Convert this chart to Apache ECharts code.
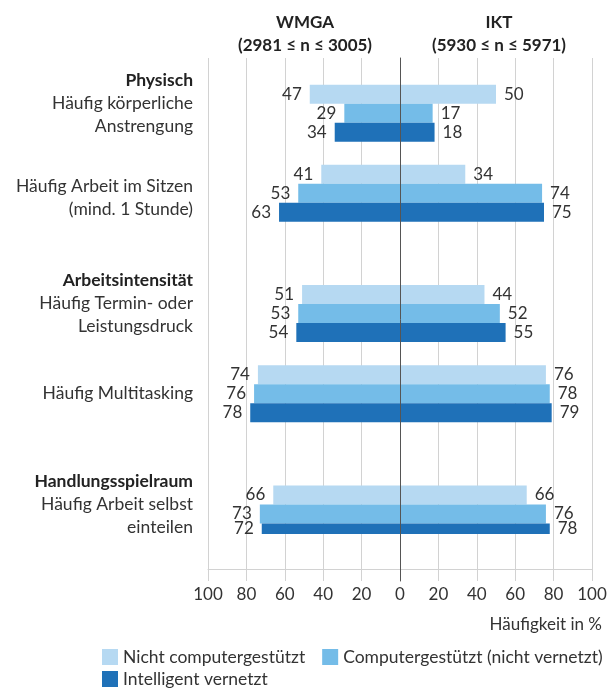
<!DOCTYPE html>
<html lang="de">
<head>
<meta charset="utf-8">
<title>Belastungen und Handlungsspielraum</title>
<script src="https://cdn.jsdelivr.net/npm/echarts@6/dist/echarts.min.js"></script>
<style>
  html, body { margin: 0; padding: 0; background: #ffffff; }
  #chart { width: 614px; height: 688px; }
</style>
</head>
<body>
<div id="chart"></div>
<script>
// ---- data ----
const headers = ['Physisch', '', 'Arbeitsintensität', '', 'Handlungsspielraum'];
const items = [
  'Häufig körperliche\nAnstrengung',
  'Häufig Arbeit im Sitzen\n(mind. 1 Stunde)',
  'Häufig Termin- oder\nLeistungsdruck',
  'Häufig Multitasking',
  'Häufig Arbeit selbst\neinteilen'
];
const groups = ['Nicht computergestützt', 'Computergestützt (nicht vernetzt)', 'Intelligent vernetzt'];

// WMGA (left side)
const wmgaNicht = [47, 41, 51, 74, 66];
const wmgaComp = [29, 53, 53, 76, 73];
const wmgaIntel = [34, 63, 54, 78, 72];
// IKT (right side)
const iktNicht = [50, 34, 44, 76, 66];
const iktComp = [17, 74, 52, 78, 76];
const iktIntel = [18, 75, 55, 79, 78];

const xTicks = [-100, -80, -60, -40, -20, 0, 20, 40, 60, 80, 100];
const leftTitle = 'WMGA\n(2981 ≤ n ≤ 3005)';
const rightTitle = 'IKT\n(5930 ≤ n ≤ 5971)';
const xName = 'Häufigkeit in %';

// ---- layout ----
// each item sits in a slot of the bar grid; empty slots leave room for group headings
const slotOf = [1, 3, 6, 8, 11];
const slotCount = 12;
const colors = ['#b6d9f2', '#74bce8', '#1f71b8'];
const textColor = '#333333';
const gridColor = '#d2d2d2';
const labelSize = 17.5;
const xMin = xTicks[0];
const xMax = xTicks[xTicks.length - 1];

const slotNames = [];
for (let i = 0; i < slotCount; i++) slotNames.push('#' + i);
slotOf.forEach((s, i) => { slotNames[s] = items[i]; });

function slotData(values, sign) {
  const out = new Array(slotCount).fill('-');
  slotOf.forEach((s, i) => { out[s] = sign * values[i]; });
  return out;
}

function rowLabel(value, index) {
  const i = slotOf.indexOf(index);
  if (i < 0) return '';
  const lines = items[i].split('\n').map(l => '{t|' + l + '}');
  if (headers[i]) {
    return ['{h|' + headers[i] + '}'].concat(lines).concat(['{s| }']).join('\n');
  }
  if (lines.length > 1) return ['{p| }'].concat(lines).join('\n');
  return lines.join('\n');
}

const sides = [
  { sign: -1, pos: 'left', sets: [wmgaNicht, wmgaComp, wmgaIntel] },
  { sign: 1, pos: 'right', sets: [iktNicht, iktComp, iktIntel] }
];

const series = [];
groups.forEach((g, gi) => {
  sides.forEach(side => {
    series.push({
      name: g,
      type: 'bar',
      xAxisIndex: 1,
      yAxisIndex: 1,
      stack: 'grp' + gi,
      barWidth: 19,
      barGap: '0%',
      itemStyle: { color: colors[gi] },
      label: {
        show: true,
        position: side.pos,
        distance: 8,
        fontSize: 17,
        color: textColor,
        formatter: p => Math.abs(p.value)
      },
      emphasis: { disabled: true },
      data: slotData(side.sets[gi], side.sign)
    });
  });
});

const chart = echarts.init(document.getElementById('chart'), null, { renderer: 'canvas' });
chart.setOption({
  backgroundColor: '#ffffff',
  animation: false,
  textStyle: { fontFamily: 'Lato', color: textColor },
  color: colors,
  title: [
    { text: leftTitle, left: 300, top: 6, textAlign: 'center',
      textStyle: { fontSize: 17, fontWeight: 'bold', lineHeight: 23, color: '#222', fontFamily: 'Lato' } },
    { text: rightTitle, left: 494, top: 6, textAlign: 'center',
      textStyle: { fontSize: 17, fontWeight: 'bold', lineHeight: 23, color: '#222', fontFamily: 'Lato' } },
    { text: xName, right: 7, top: 611,
      textStyle: { fontSize: 17, fontWeight: 'normal', color: textColor, fontFamily: 'Lato' } }
  ],
  legend: [
    { data: groups.slice(0, 2), left: 97, top: 643, itemWidth: 16, itemHeight: 16, itemGap: 17,
      icon: 'rect', selectedMode: false,
      textStyle: { fontSize: labelSize, color: textColor, fontFamily: 'Lato' } },
    { data: groups.slice(2), left: 97, top: 665, itemWidth: 16, itemHeight: 16,
      icon: 'rect', selectedMode: false,
      textStyle: { fontSize: labelSize, color: textColor, fontFamily: 'Lato' } }
  ],
  grid: [
    // frame: vertical grid lines, bottom axis, tick labels
    { left: 208, right: 22, top: 58, bottom: 119 },
    // bars and row labels
    { left: 208, right: 22, top: 53, height: 481 },
    // zero line, running down through the tick row
    { left: 208, right: 22, top: 58, bottom: 107 }
  ],
  xAxis: [
    {
      gridIndex: 0, type: 'value', min: xMin, max: xMax, interval: 20,
      axisLine: { show: true, onZero: false, lineStyle: { color: gridColor, width: 1 } },
      axisTick: { show: true, length: 12, lineStyle: { color: gridColor } },
      axisLabel: { fontSize: 17, color: textColor, margin: 17, formatter: v => Math.abs(v) },
      splitLine: { show: true, lineStyle: { color: gridColor, width: 1 } }
    },
    { gridIndex: 1, type: 'value', min: xMin, max: xMax, show: false },
    { gridIndex: 2, type: 'value', min: xMin, max: xMax, show: false }
  ],
  yAxis: [
    { gridIndex: 0, type: 'value', min: 0, max: 1, show: false },
    {
      gridIndex: 1, type: 'category', inverse: true, data: slotNames,
      axisLine: { show: false }, axisTick: { show: false }, splitLine: { show: false },
      axisLabel: {
        interval: 0, margin: 15, formatter: rowLabel,
        rich: {
          h: { fontSize: labelSize, fontWeight: 'bold', lineHeight: 23, color: '#222', align: 'right' },
          t: { fontSize: labelSize, lineHeight: 23, color: textColor, align: 'right' },
          s: { fontSize: 10, lineHeight: 20 },
          p: { fontSize: 10, lineHeight: 10 }
        }
      }
    },
    {
      gridIndex: 2, type: 'value', min: 0, max: 1, z: 10,
      axisLine: { show: true, onZero: true, lineStyle: { color: '#555555', width: 1 } },
      axisTick: { show: false }, axisLabel: { show: false }, splitLine: { show: false }
    }
  ],
  series: series
});
</script>
</body>
</html>
